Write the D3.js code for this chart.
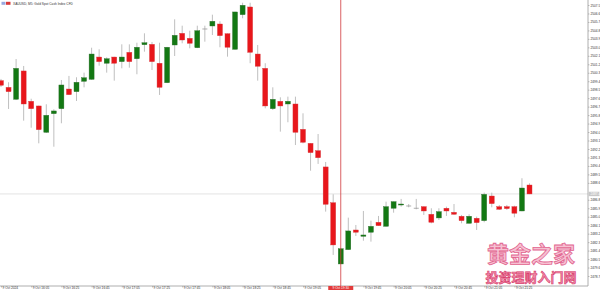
<!DOCTYPE html>
<html><head><meta charset="utf-8">
<script src="https://cdn.jsdelivr.net/npm/d3@7"></script>
<style>html,body{margin:0;padding:0;background:#fff;}svg{display:block;}</style>
</head><body>
<svg id="c" width="600" height="290"></svg>
<script>
// ---- data ----
const opens  = [2499.46,2498.75,2497.48,2500.49,2497.27,2496.77,2493.97,2495.95,2496.48,2498.57,2498.29,2499.39,2499.60,2501.97,2501.31,2501.97,2501.48,2502.47,2501.79,2503.28,2503.32,2501.31,2499.24,2503.25,2504.49,2503.96,2502.96,2504.95,2505.27,2505.48,2504.45,2502.79,2506.47,2507.29,2502.29,2500.77,2496.48,2497.27,2496.98,2496.98,2494.29,2492.80,2492.02,2490.29,2486.49,2479.98,2481.50,2483.59,2482.92,2483.35,2484.41,2483.98,2485.90,2486.25,2486.14,2485.90,2486.07,2485.26,2484.87,2485.90,2485.47,2485.05,2484.30,2484.84,2484.58,2487.20,2486.07,2486.07,2486.07,2485.61,2488.37];
const highs  = [2499.64,2499.29,2501.76,2501.02,2497.54,2496.80,2496.95,2496.42,2499.53,2499.96,2499.82,2500.31,2502.96,2502.79,2501.94,2502.00,2503.32,2503.32,2503.49,2504.49,2503.57,2503.49,2503.05,2505.98,2505.30,2504.77,2505.30,2505.30,2506.47,2505.77,2504.48,2506.78,2507.74,2507.74,2503.25,2501.31,2498.75,2497.69,2497.76,2497.76,2495.99,2492.82,2493.79,2490.82,2487.38,2481.62,2484.90,2484.12,2485.61,2484.58,2485.08,2486.60,2486.62,2486.89,2486.35,2486.89,2486.10,2485.90,2485.90,2486.07,2486.35,2485.19,2485.26,2485.01,2487.56,2487.56,2486.25,2486.25,2486.17,2489.09,2488.55];
const lows   = [2498.79,2496.45,2497.40,2495.21,2494.46,2492.80,2493.90,2492.44,2494.93,2497.95,2497.30,2498.75,2499.55,2501.05,2500.31,2499.46,2500.77,2500.84,2500.14,2502.54,2500.59,2497.94,2499.20,2502.08,2503.43,2502.90,2502.92,2503.60,2504.31,2503.01,2502.01,2502.76,2506.09,2501.31,2499.46,2496.52,2496.34,2494.04,2495.04,2492.62,2492.80,2489.89,2490.61,2485.54,2480.94,2479.95,2481.48,2482.95,2482.45,2482.35,2484.03,2483.96,2485.43,2486.07,2486.00,2485.79,2485.19,2484.30,2484.65,2485.08,2485.19,2484.30,2484.28,2483.59,2484.41,2486.00,2485.72,2485.72,2484.94,2485.58,2487.40];
const closes = [2498.97,2498.29,2500.77,2496.98,2496.48,2494.25,2495.78,2496.24,2499.00,2497.97,2499.29,2499.77,2502.29,2501.48,2501.79,2501.31,2501.97,2501.48,2503.01,2503.49,2501.48,2498.75,2503.01,2504.28,2503.78,2503.43,2504.77,2504.95,2505.77,2504.24,2503.01,2506.76,2507.47,2502.47,2500.99,2496.77,2497.48,2496.77,2497.27,2493.97,2492.91,2491.81,2491.27,2486.32,2482.00,2481.60,2483.49,2483.35,2483.06,2483.98,2484.05,2486.07,2486.60,2486.35,2486.14,2485.90,2485.61,2484.41,2485.54,2485.61,2485.26,2484.58,2485.05,2484.37,2487.38,2486.39,2485.79,2485.86,2485.37,2488.05,2487.42];
const priceTicks = ["2507.5","2506.6","2505.7","2504.8","2503.9","2503.0","2502.1","2501.2","2500.3","2499.4","2498.5","2497.6","2496.7","2495.8","2494.9","2494.0","2493.1","2492.2","2491.3","2490.4","2489.5","2488.6","2486.8","2485.9","2485.0","2484.1","2483.2","2482.3","2481.4","2480.5","2479.6","2478.7"];
const timeTickBars = [0,4,8,12,16,20,24,28,32,36,40,48,52,56,60,64,68];
const timeLabels = ["9 Oct 2024","9 Oct 16:05","9 Oct 16:25","9 Oct 16:45","9 Oct 17:05","9 Oct 17:25","9 Oct 17:45","9 Oct 18:05","9 Oct 18:25","9 Oct 18:45","9 Oct 19:05","9 Oct 19:45","9 Oct 20:05","9 Oct 20:25","9 Oct 20:45","9 Oct 21:05","9 Oct 21:25"];
const crossBar = 45;
const crossLabel = "9 Oct 19:30";
const title = "XAUUSD, M5:  Gold Spot Cash Index CFD";
const wmTop = "黄金之家";
const wmBottom = "投资理财入门网";

// ---- drawing ----
const svg = d3.select("#c");
const W = 600, H = 290, axisX = 588, axisY = 286;
const x = d3.scaleLinear().domain([0, 70]).range([1, 529.5]);
const y = d3.scaleLinear().domain([2478.7, 2507.5]).range([276, 5]);
const font = "'Liberation Sans', Arial, sans-serif";

svg.append("rect").attr("width", W).attr("height", H).attr("fill", "#fff");

// bid line
const last = closes[closes.length - 1];
svg.append("line").attr("x1", 0).attr("x2", axisX).attr("y1", y(last)).attr("y2", y(last))
  .attr("stroke", "#dcdcdc").attr("stroke-width", 0.8);

// candles
const data = opens.map((o, i) => ({i, o, h: highs[i], l: lows[i], c: closes[i]}));
const bw = 5;
const g = svg.append("g");
g.selectAll("line.wick").data(data).enter().append("line")
  .attr("x1", d => x(d.i)).attr("x2", d => x(d.i))
  .attr("y1", d => y(d.h)).attr("y2", d => y(d.l))
  .attr("stroke", "#b8b8b8").attr("stroke-width", 0.9);
g.selectAll("rect.body").data(data.filter(d => d.o !== d.c)).enter().append("rect")
  .attr("x", d => x(d.i) - bw / 2)
  .attr("y", d => y(Math.max(d.o, d.c)))
  .attr("width", bw)
  .attr("height", d => Math.max(1, Math.abs(y(d.o) - y(d.c))))
  .attr("fill", d => d.c > d.o ? "#137813" : "#e8161b")
  .attr("stroke", d => d.c > d.o ? "#2f6f2f" : "#d8383c")
  .attr("stroke-width", 0.4);
g.selectAll("line.doji").data(data.filter(d => d.o === d.c)).enter().append("line")
  .attr("x1", d => x(d.i) - bw / 2).attr("x2", d => x(d.i) + bw / 2)
  .attr("y1", d => y(d.o)).attr("y2", d => y(d.o))
  .attr("stroke", "#999").attr("stroke-width", 0.8);

// watermark
svg.append("text").attr("x", 531).attr("y", 262).attr("text-anchor", "middle")
  .attr("font-family", "'Noto Sans CJK SC', sans-serif").attr("font-size", 22).attr("font-weight", 700)
  .attr("fill", "#f6c0d2").attr("stroke", "#e2648f").attr("stroke-width", 0.8).text(wmTop);
svg.append("text").attr("x", 531).attr("y", 282).attr("text-anchor", "middle")
  .attr("font-family", "'Noto Sans CJK SC', sans-serif").attr("font-size", 13).attr("font-weight", 700)
  .attr("fill", "#f08aa8").attr("stroke", "#d8406e").attr("stroke-width", 0.6).text(wmBottom);

// axes lines
svg.append("line").attr("x1", axisX).attr("x2", axisX).attr("y1", 0).attr("y2", axisY)
  .attr("stroke", "#9a9a9a").attr("stroke-width", 0.8);
svg.append("line").attr("x1", 0).attr("x2", axisX).attr("y1", axisY).attr("y2", axisY)
  .attr("stroke", "#9a9a9a").attr("stroke-width", 0.8);

// right price axis
const yAxis = d3.axisRight(y).tickValues(priceTicks.map(Number)).tickSize(1.5).tickPadding(1)
  .tickFormat((d, i) => priceTicks[i]);
const ya = svg.append("g").attr("transform", `translate(${axisX},0)`).call(yAxis);
ya.select(".domain").remove();
ya.selectAll("line").attr("stroke", "#888").attr("stroke-width", 0.5);
ya.selectAll("text").attr("font-family", font).attr("font-size", 3.2).attr("fill", "#333");

// bid label
const bl = svg.append("g").attr("transform", `translate(${axisX},${y(last)})`);
bl.append("rect").attr("x", 0.5).attr("y", -2.2).attr("width", 11).attr("height", 4.4).attr("fill", "#c8c8c8");
bl.append("text").attr("x", 2.5).attr("y", 1.1).attr("font-family", font).attr("font-size", 3.2)
  .attr("fill", "#fff").text(last.toFixed(1));

// bottom time axis
const xAxis = d3.axisBottom(x).tickValues(timeTickBars).tickSize(1.5).tickPadding(0)
  .tickFormat((d, i) => timeLabels[i]);
const xa = svg.append("g").attr("transform", `translate(0,${axisY})`).call(xAxis);
xa.select(".domain").remove();
xa.selectAll("line").attr("stroke", "#888").attr("stroke-width", 0.5);
xa.selectAll("text").attr("font-family", font).attr("font-size", 3.2).attr("fill", "#333")
  .attr("text-anchor", "start").attr("dx", 1).attr("dy", "0.4em");

// crosshair
svg.append("line").attr("x1", x(crossBar)).attr("x2", x(crossBar)).attr("y1", 0).attr("y2", axisY)
  .attr("stroke", "#d0393b").attr("stroke-width", 0.8);
svg.append("rect").attr("x", x(crossBar) - 12.5).attr("y", axisY).attr("width", 25).attr("height", 4)
  .attr("fill", "#e23a3a");
svg.append("text").attr("x", x(crossBar)).attr("y", axisY + 3.2).attr("text-anchor", "middle")
  .attr("font-family", font).attr("font-size", 3.2).attr("fill", "#fff").text(crossLabel);

// title
svg.append("rect").attr("x", 1.5).attr("y", 1.8).attr("width", 4).attr("height", 3).attr("fill", "#9aa8e0");
svg.append("rect").attr("x", 6).attr("y", 1.8).attr("width", 4.5).attr("height", 3).attr("fill", "#d83a3a");
svg.append("text").attr("x", 13).attr("y", 4.6).attr("font-family", font).attr("font-size", 3.2)
  .attr("fill", "#333").text(title);
</script>
</body></html>
